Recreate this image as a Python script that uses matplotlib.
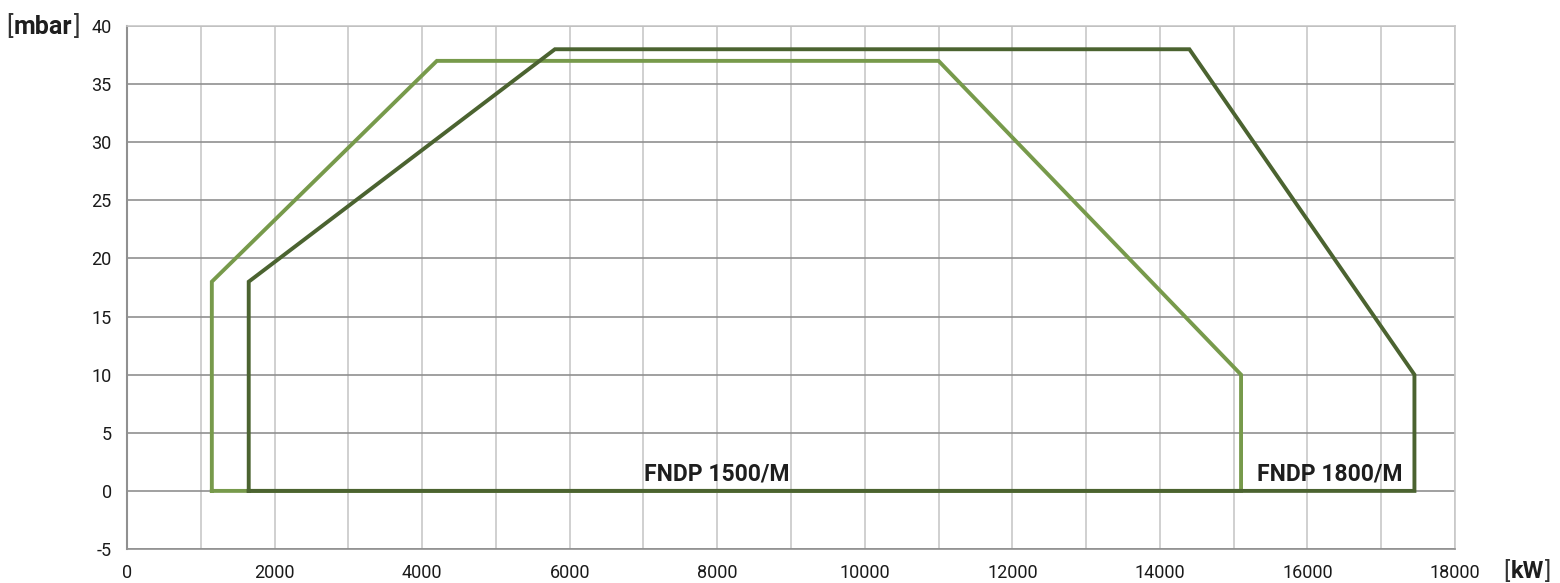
import matplotlib
matplotlib.use("Agg")
import matplotlib.pyplot as plt
from matplotlib.ticker import MultipleLocator

# Data
fndp1500_kw = [1150, 1150, 4200, 11000, 15100, 15100, 1150]
fndp1500_mbar = [0, 18, 37, 37, 10, 0, 0]
fndp1800_kw = [1650, 1650, 5800, 14400, 17450, 17450, 1650]
fndp1800_mbar = [0, 18, 38, 38, 10, 0, 0]
labels = ["FNDP 1500/M", "FNDP 1800/M"]
label_pos = [(8000, 0.5), (16300, 0.5)]

c_light = "#779a4b"
c_dark = "#4b6330"

plt.rcParams['font.family'] = ['Roboto', 'DejaVu Sans']
plt.rcParams['axes.unicode_minus'] = False

fig = plt.figure(figsize=(15.6, 5.83), dpi=100)
ax = fig.add_axes([0.0814, 0.0583, 0.8513, 0.8971])

ax.set_xlim(0, 18000)
ax.set_ylim(-5, 40)
ax.xaxis.set_major_locator(MultipleLocator(2000))
ax.xaxis.set_minor_locator(MultipleLocator(1000))
ax.yaxis.set_major_locator(MultipleLocator(5))

ax.grid(which='both', axis='x', color='#c8c8c8', lw=1.2)
ax.grid(which='major', axis='y', color='#909090', lw=1.2)
ax.set_axisbelow(True)

ax.tick_params(which='both', length=0)
ax.tick_params(axis='x', pad=11, labelsize=13, colors='#1a1a1a')
ax.tick_params(axis='y', pad=11, labelsize=13, colors='#1a1a1a')

for s in ['top', 'right']:
    ax.spines[s].set_color('#c8c8c8')
    ax.spines[s].set_linewidth(1.2)
ax.spines['left'].set_color('#909090')
ax.spines['left'].set_linewidth(1.5)
ax.spines['bottom'].set_color('#909090')
ax.spines['bottom'].set_linewidth(1.2)

ax.plot(fndp1500_kw, fndp1500_mbar, color=c_light, lw=2.8, solid_joinstyle='miter', zorder=3)
ax.plot(fndp1800_kw, fndp1800_mbar, color=c_dark, lw=2.8, solid_joinstyle='miter', zorder=4)

for lab, (x, y) in zip(labels, label_pos):
    ax.text(x, y, lab, ha='center', va='bottom', fontsize=16.5, fontweight='bold',
            color='#1e1e1e', zorder=5)

# unit labels
def unit_label(x, y, unit, size):
    t1 = fig.text(x, y, "[", fontsize=size, color='#333333', va='baseline', ha='left')
    t2 = ax.annotate(unit, xy=(1, 0), xycoords=t1, xytext=(1, 0), textcoords='offset points',
                     fontsize=size, fontweight='bold', color='#1e1e1e', va='bottom', ha='left')
    ax.annotate("]", xy=(1, 0), xycoords=t2, xytext=(1, 0), textcoords='offset points',
                fontsize=size, color='#333333', va='bottom', ha='left')

unit_label(6 / 1560, 1 - 34 / 583, "mbar", 18)
unit_label(1503 / 1560, 1 - 578 / 583, "kW", 17)

fig.savefig("out.png", dpi=100)
